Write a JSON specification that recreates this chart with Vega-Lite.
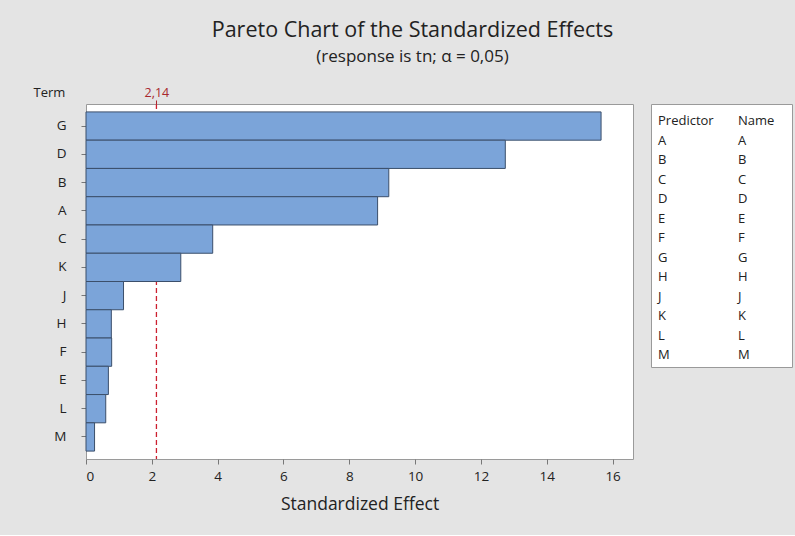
{
  "$schema": "https://vega.github.io/schema/vega-lite/v6.json",
  "background": "#e4e4e4",
  "padding": {"left": 32, "top": 20, "right": 2, "bottom": 21},
  "title": {
    "text": "Pareto Chart of the Standardized Effects",
    "subtitle": "(response is tn; α = 0,05)",
    "font": "Open Sans",
    "fontSize": 21.5,
    "fontWeight": "normal",
    "color": "#222222",
    "subtitleFont": "Open Sans",
    "subtitleFontSize": 17,
    "subtitleColor": "#222222",
    "subtitlePadding": 7,
    "anchor": "middle",
    "offset": 21
  },
  "config": {
    "font": "Open Sans",
    "view": {"fill": "white", "stroke": "#9a9a9a", "strokeWidth": 1}
  },
  "spacing": 16,
  "hconcat": [
    {
      "width": 547,
      "height": 355,
      "layer": [
        {
          "data": {"values": [{"crit": 2.14}]},
          "mark": {"type": "rule", "color": "#cc2030", "strokeDash": [5, 3], "strokeWidth": 1.3},
          "encoding": {
            "x": {
              "field": "crit",
              "type": "quantitative",
              "scale": {"domain": [0, 16.62], "nice": false, "zero": true},
              "axis": {
                "orient": "top",
                "values": [2.14],
                "labelExpr": "'2,14'",
                "labelColor": "#a8282e",
                "labelFontSize": 12.5,
                "labelPadding": 1,
                "tickColor": "#a8282e",
                "tickSize": 4,
                "domain": false,
                "grid": false,
                "title": null
              }
            }
          }
        },
        {
          "data": {
            "values": [
              {"term": "G", "effect": 15.65},
              {"term": "D", "effect": 12.74},
              {"term": "B", "effect": 9.2},
              {"term": "A", "effect": 8.86},
              {"term": "C", "effect": 3.85},
              {"term": "K", "effect": 2.88},
              {"term": "J", "effect": 1.14},
              {"term": "H", "effect": 0.77},
              {"term": "F", "effect": 0.78},
              {"term": "E", "effect": 0.68},
              {"term": "L", "effect": 0.6},
              {"term": "M", "effect": 0.26}
            ]
          },
          "mark": {"type": "bar", "fill": "#7ba4d9", "stroke": "#3b4f6b", "strokeWidth": 1},
          "encoding": {
            "y": {
              "field": "term",
              "type": "nominal",
              "sort": ["G", "D", "B", "A", "C", "K", "J", "H", "F", "E", "L", "M"],
              "scale": {"paddingInner": 0, "paddingOuter": 0.28},
              "axis": {
                "title": "Term",
                "titleAngle": 0,
                "titleAlign": "left",
                "titleBaseline": "alphabetic",
                "titleX": -53,
                "titleY": -8,
                "titleFontSize": 13,
                "titleFontWeight": "normal",
                "titleColor": "#222222",
                "labelFontSize": 13.5,
                "labelColor": "#222222",
                "labelPadding": 15,
                "tickColor": "#777777",
                "tickSize": 5,
                "domain": false
              }
            },
            "x": {
              "field": "effect",
              "type": "quantitative",
              "scale": {"domain": [0, 16.62], "nice": false, "zero": true},
              "axis": {
                "orient": "bottom",
                "values": [0, 2, 4, 6, 8, 10, 12, 14, 16],
                "title": "Standardized Effect",
                "titleFontSize": 17.5,
                "titleFontWeight": "normal",
                "titleColor": "#222222",
                "titlePadding": 13,
                "labelFontSize": 13.5,
                "labelColor": "#222222",
                "labelPadding": 5,
                "tickColor": "#777777",
                "tickSize": 5,
                "domain": false,
                "grid": false
              }
            }
          }
        }
      ],
      "resolve": {"axis": {"x": "independent"}}
    },
    {
      "width": 141,
      "height": 263,
      "data": {
        "values": [
          {"row": 0, "col": "Predictor", "label": "Predictor"},
          {"row": 0, "col": "Name", "label": "Name"},
          {"row": 1, "col": "Predictor", "label": "A"},
          {"row": 1, "col": "Name", "label": "A"},
          {"row": 2, "col": "Predictor", "label": "B"},
          {"row": 2, "col": "Name", "label": "B"},
          {"row": 3, "col": "Predictor", "label": "C"},
          {"row": 3, "col": "Name", "label": "C"},
          {"row": 4, "col": "Predictor", "label": "D"},
          {"row": 4, "col": "Name", "label": "D"},
          {"row": 5, "col": "Predictor", "label": "E"},
          {"row": 5, "col": "Name", "label": "E"},
          {"row": 6, "col": "Predictor", "label": "F"},
          {"row": 6, "col": "Name", "label": "F"},
          {"row": 7, "col": "Predictor", "label": "G"},
          {"row": 7, "col": "Name", "label": "G"},
          {"row": 8, "col": "Predictor", "label": "H"},
          {"row": 8, "col": "Name", "label": "H"},
          {"row": 9, "col": "Predictor", "label": "J"},
          {"row": 9, "col": "Name", "label": "J"},
          {"row": 10, "col": "Predictor", "label": "K"},
          {"row": 10, "col": "Name", "label": "K"},
          {"row": 11, "col": "Predictor", "label": "L"},
          {"row": 11, "col": "Name", "label": "L"},
          {"row": 12, "col": "Predictor", "label": "M"},
          {"row": 12, "col": "Name", "label": "M"}
        ]
      },
      "mark": {"type": "text", "align": "left", "baseline": "middle", "fontSize": 13, "color": "#222222"},
      "encoding": {
        "x": {"field": "col", "type": "nominal", "scale": {"type": "point", "padding": 0, "domain": ["Predictor", "Name"], "range": [7, 87]}, "axis": null},
        "y": {"field": "row", "type": "ordinal", "scale": {"type": "point", "padding": 0, "range": [17, 251]}, "axis": null},
        "text": {"field": "label"}
      }
    }
  ]
}
